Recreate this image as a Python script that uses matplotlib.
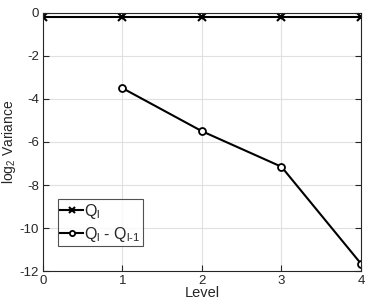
import matplotlib
matplotlib.use("Agg")
import matplotlib.pyplot as plt

levels = [0, 1, 2, 3, 4]
q_var = [-0.2, -0.2, -0.2, -0.2, -0.2]
diff_levels = [1, 2, 3, 4]
diff_var = [-3.5, -5.5, -7.15, -11.65]

plt.rcParams['font.family'] = ['Liberation Sans', 'DejaVu Sans']
plt.rcParams['mathtext.fontset'] = 'custom'
plt.rcParams['mathtext.rm'] = 'Liberation Sans'
plt.rcParams['axes.unicode_minus'] = False
plt.rcParams['mathtext.default'] = 'regular'

fig = plt.figure(figsize=(3.74, 3.06), dpi=100)
ax = fig.add_axes([0.115, 0.114, 0.85, 0.844])

ax.plot(levels, q_var, '-x', color='black', lw=1.5, ms=6, mew=1.5,
        label=r'Q$_{l}$')
ax.plot(diff_levels, diff_var, '-o', color='black', lw=1.5, ms=5, mew=1.3,
        mfc='white', label=r'Q$_{l}$ - Q$_{l\text{-}1}$')

ax.set_xlim(0, 4)
ax.set_ylim(-12, 0)
ax.set_xticks(levels)
ax.set_yticks([0, -2, -4, -6, -8, -10, -12])
ax.grid(True, color='#e0e0e0', lw=0.8)
ax.tick_params(direction='in', top=True, right=True, labelsize=9.5, length=4,
               width=0.8, color='#262626', labelcolor='#262626', pad=3)
for s in ax.spines.values():
    s.set_color('#262626')
    s.set_linewidth(0.8)
ax.set_xlabel('Level', fontsize=10.5, labelpad=-1, color='#262626')
ax.set_ylabel(r'log$_{2}$ Variance', fontsize=10, color='#262626')
ax.yaxis.set_label_coords(-0.078, 0.5)

leg = ax.legend(loc='lower left', bbox_to_anchor=(0.047, 0.097), fontsize=11.5,
                fancybox=False, edgecolor='#262626', handlelength=1.4,
                handletextpad=0.1, borderpad=0.15, labelspacing=0.25,
                borderaxespad=0, markerscale=0.75)
leg.get_frame().set_linewidth(0.8)
for t in leg.get_texts():
    t.set_color('#262626')

fig.savefig('out.png', dpi=100)
